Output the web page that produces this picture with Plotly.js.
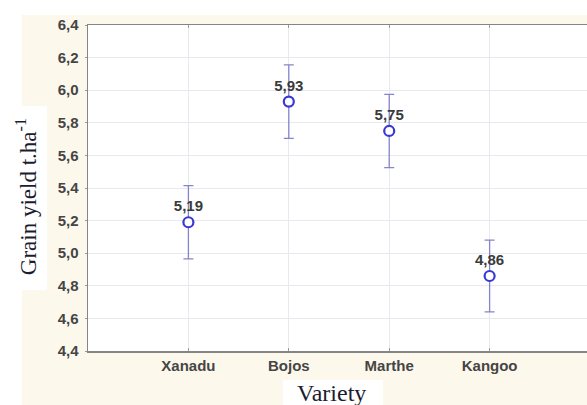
<!DOCTYPE html>
<html><head><meta charset="utf-8">
<script src="https://cdn.plot.ly/plotly-3.0.1.min.js"></script>
<style>html,body{margin:0;padding:0;background:#fff}#c{width:587px;height:405px}</style>
</head><body><div id="c"></div>
<script>
const categories = ["Xanadu", "Bojos", "Marthe", "Kangoo"];
const positions = [1, 2, 3, 4];
const yieldMean = [5.19, 5.93, 5.75, 4.86];
const yieldErr = [0.225, 0.225, 0.225, 0.22];
const yTicks = [4.4, 4.6, 4.8, 5.0, 5.2, 5.4, 5.6, 5.8, 6.0, 6.2, 6.4];

const labels = yieldMean.map(v => v.toFixed(2).replace('.', ','));

const tickFont = {family: 'Liberation Sans, Arial', size: 15, color: '#454545', weight: 'bold'};

const trace = {
  x: positions, y: yieldMean, type: 'scatter', mode: 'markers+text',
  text: labels, textposition: 'top center',
  textfont: {family: 'Liberation Sans, Arial', size: 15, color: '#3a3a3a', weight: 'bold'},
  marker: {symbol: 'circle', size: 10, color: '#ffffff', line: {color: '#3838d6', width: 2.2}},
  error_y: {type: 'data', array: yieldErr, visible: true, color: '#8585cc', thickness: 1.3, width: 5},
  cliponaxis: false, hoverinfo: 'none'
};

const cream = '#fdf8ec';
const layout = {
  width: 587, height: 405,
  margin: {l: 88, r: 0, t: 25, b: 54},
  paper_bgcolor: cream, plot_bgcolor: '#ffffff',
  separators: ', ',
  showlegend: false,
  font: {family: 'Liberation Sans, Arial', size: 13, color: '#3a3a3a'},
  xaxis: {
    range: [0, 4.97], tickvals: positions, ticktext: categories,
    showgrid: true, gridcolor: '#e8e8ee', gridwidth: 1,
    showline: true, linecolor: '#858585', linewidth: 1.5, mirror: 'ticks',
    ticks: 'inside', ticklen: 3, tickcolor: '#999',
    zeroline: false, fixedrange: true, tickfont: tickFont
  },
  yaxis: {
    range: [4.4, 6.4], tickvals: yTicks, tickformat: '.1f',
    showgrid: true, gridcolor: '#e8e8ee', gridwidth: 1,
    showline: true, linecolor: '#858585', linewidth: 1.5,
    ticks: 'outside', ticklen: 2, tickcolor: '#999', ticklabelstandoff: 3,
    zeroline: false, fixedrange: true, tickfont: tickFont
  },
  shapes: [
    {type: 'rect', xref: 'paper', yref: 'paper', x0: -0.18, x1: 1.01, y0: 1.0307, y1: 1.08, fillcolor: '#fff', line: {width: 0}, layer: 'below'},
    {type: 'rect', xref: 'paper', yref: 'paper', x0: -0.18, x1: -0.1323, y0: -0.17, y1: 1.08, fillcolor: '#fff', line: {width: 0}, layer: 'below'},
    {type: 'rect', xref: 'paper', yref: 'paper', x0: -0.1663, x1: -0.0822, y0: 0.1871, y1: 0.7515, fillcolor: '#fff', line: {width: 0}, layer: 'below'},
    {type: 'rect', xref: 'paper', yref: 'paper', x0: 0.3908, x1: 0.5912, y0: -0.17, y1: -0.0889, fillcolor: '#fff', line: {width: 0}, layer: 'below'}
  ],
  annotations: [
    {text: 'Grain yield t.ha<sup>-1</sup>', xref: 'paper', yref: 'paper', x: -0.1242, y: 0.472,
     textangle: -90, showarrow: false, xanchor: 'center', yanchor: 'middle',
     font: {family: 'Liberation Serif, Times New Roman', size: 23, color: '#1c1c30'}},
    {text: 'Variety', xref: 'paper', yref: 'paper', x: 0.487, y: -0.13,
     showarrow: false, xanchor: 'center', yanchor: 'middle',
     font: {family: 'Liberation Serif, Times New Roman', size: 24, color: '#1c1c30'}}
  ]
};

Plotly.newPlot('c', [trace], layout, {staticPlot: true, displayModeBar: false});
</script></body></html>
